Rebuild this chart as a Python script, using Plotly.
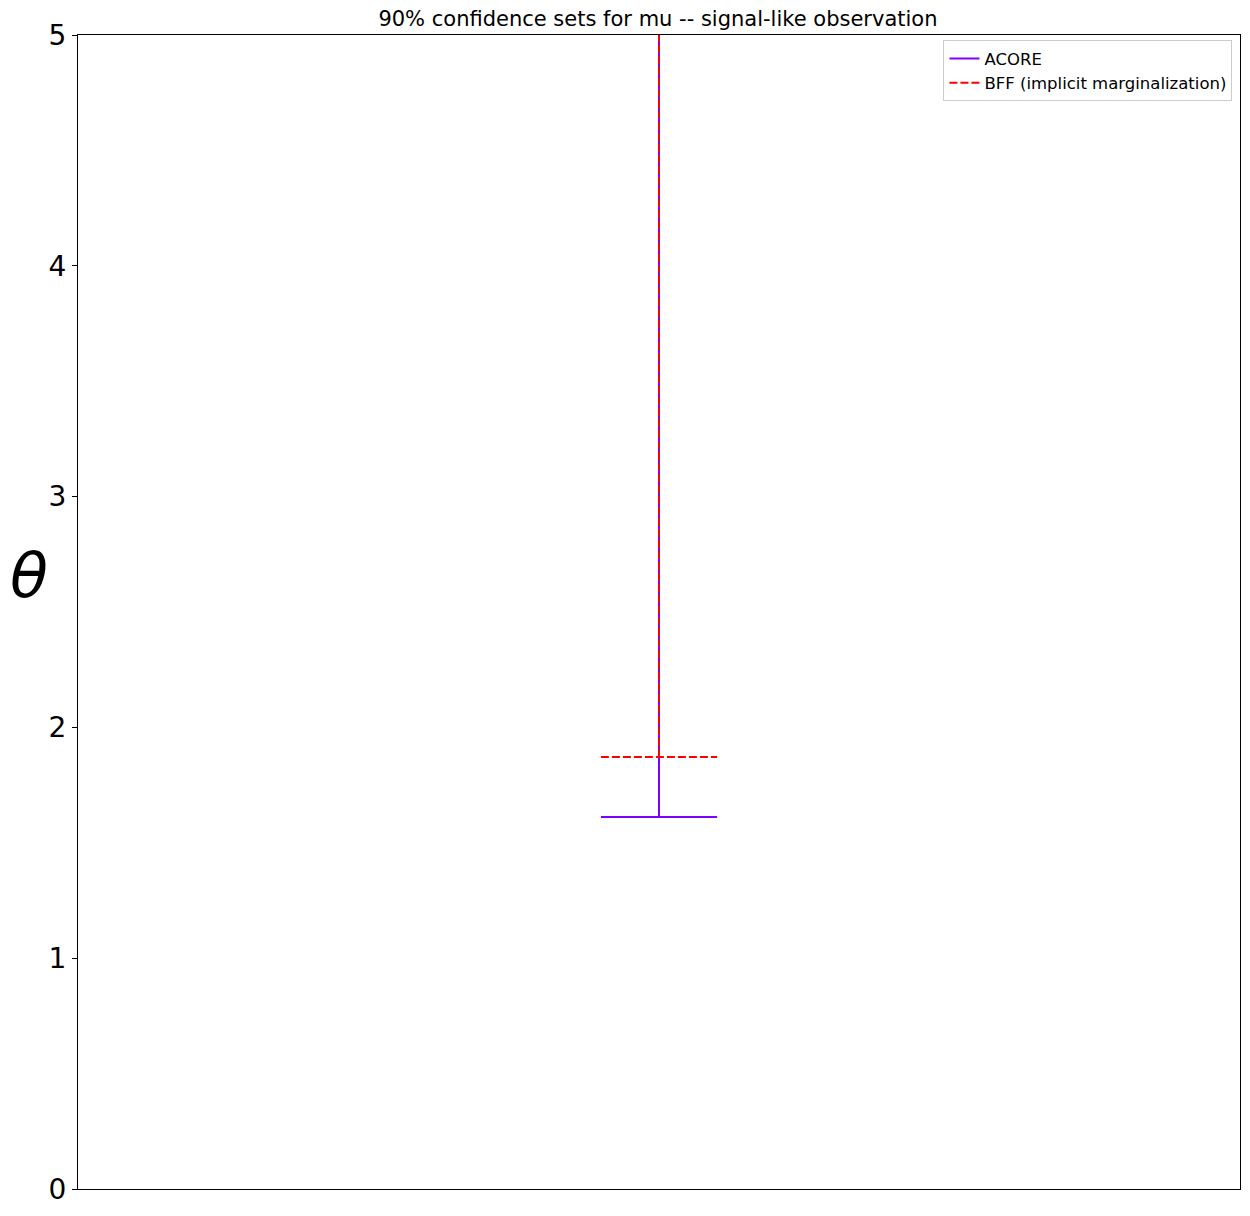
import plotly.graph_objects as go

methods = ["ACORE", "BFF (implicit marginalization)"]
lower = [1.612, 1.872]
upper = [5.0, 5.0]
colors = ["#7f00ff", "red"]
dashes = ["solid", "8px,3px"]
x_center = 0.5
cap_half = 0.05

fig = go.Figure()

for name, lo, hi, col, dash in zip(methods, lower, upper, colors, dashes):
    xs = [x_center, x_center, None, x_center - cap_half, x_center + cap_half]
    ys = [lo, hi, None, lo, lo]
    fig.add_trace(
        go.Scatter(
            x=xs,
            y=ys,
            mode="lines",
            name=name,
            line=dict(color=col, dash=dash, width=2),
            connectgaps=False,
        )
    )

fig.update_layout(
    width=1242,
    height=1208,
    plot_bgcolor="white",
    paper_bgcolor="white",
    font=dict(family="DejaVu Sans", color="black"),
    margin=dict(l=70, r=10, t=27, b=27),
    title=dict(
        text="90% confidence sets for mu -- signal-like observation",
        x=0.5233, xanchor="center", y=0.9909, yanchor="middle",
        font=dict(size=21),
    ),
    legend=dict(
        x=0.9935, xanchor="right", y=0.9955, yanchor="top",
        bordercolor="#cccccc", borderwidth=1,
        bgcolor="rgba(255,255,255,0.8)",
        font=dict(size=16.5),
    ),
    showlegend=True,
)

fig.update_xaxes(
    range=[0, 1], showgrid=False, zeroline=False, showticklabels=False,
    ticks="", showline=True, linecolor="black", linewidth=1, mirror=True,
)
fig.update_yaxes(
    range=[0, 5], showgrid=False, zeroline=False,
    tickvals=[0, 1, 2, 3, 4, 5], ticks="outside", ticklen=5, tickcolor="black",
    tickfont=dict(size=28), showline=True, linecolor="black", linewidth=1, mirror=True,
)

fig.add_annotation(
    text="<i>θ</i>", xref="paper", yref="paper", x=-0.042, y=0.532,
    xanchor="center", yanchor="middle", showarrow=False, font=dict(size=62),
)

fig.write_html("out.html")
